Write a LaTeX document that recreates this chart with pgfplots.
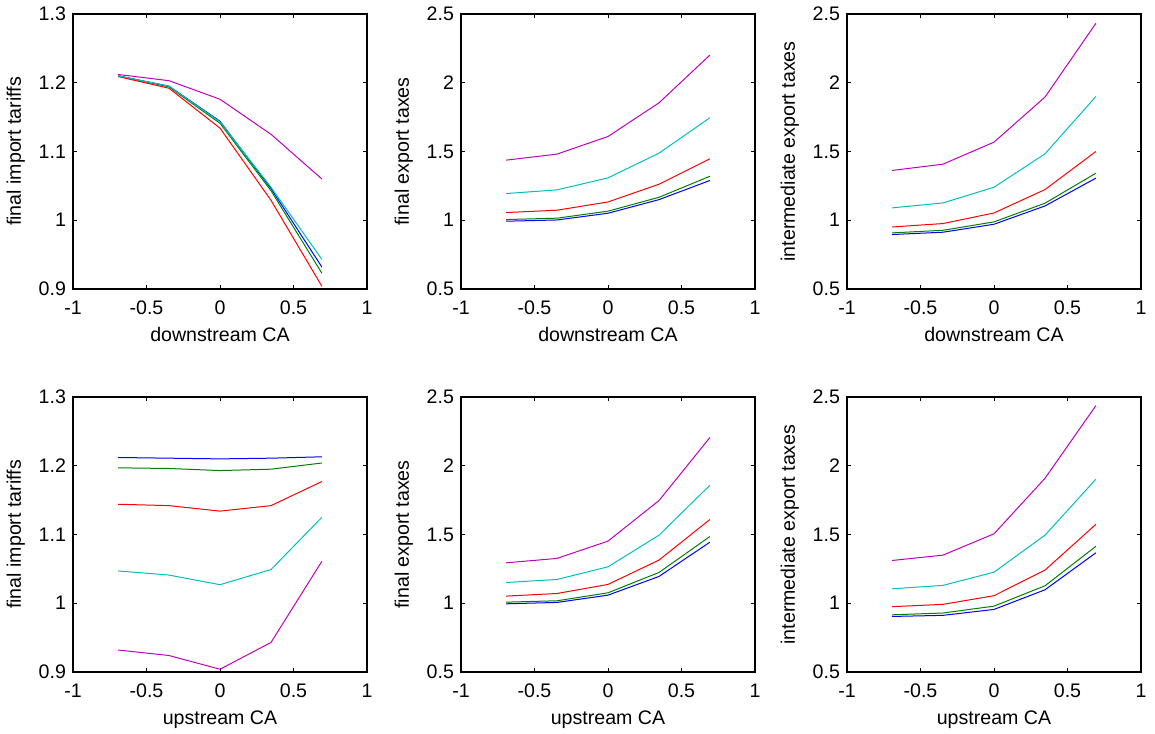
\documentclass[border=0pt]{standalone}
\usepackage{pgfplots}
\pgfplotsset{compat=1.18}
\usepackage{fontspec}
\setmainfont{Liberation Sans}

\definecolor{mblue}{rgb}{0,0,1}
\definecolor{mgreen}{rgb}{0,0.5,0}
\definecolor{mred}{rgb}{1,0,0}
\definecolor{mcyan}{rgb}{0,0.75,0.75}
\definecolor{mmagenta}{rgb}{0.75,0,0.75}

\pgfplotsset{
  panel/.style={
    scale only axis, width=147pt, height=137.5pt, anchor=south west,
    xmin=-1, xmax=1, xtick={-1,-0.5,0,0.5,1},
    tick pos=both, tick align=inside, major tick length=2pt,
    axis line style={line width=0.6pt}, tick style={line width=0.5pt, black},
    /pgf/number format/assume math mode=true,
    tick label style={font=\fontsize{9.8}{11}\selectfont},
    label style={font=\fontsize{9.8}{11}\selectfont},
    xticklabel style={yshift=-2.5pt},
    xlabel style={yshift=0.5pt},
    every axis plot/.append style={line width=0.5pt, no markers},
  },
  tariff/.style={ymin=0.9, ymax=1.3, ytick={0.9,1,1.1,1.2,1.3},
    yticklabels={0.9,1,1.1,1.2,1.3}},
  tax/.style={ymin=0.5, ymax=2.5, ytick={0.5,1,1.5,2,2.5}},
}

\begin{document}
\begin{tikzpicture}
\path[use as bounding box] (0,0) rectangle (577.5pt,366.5pt);

% top row: downstream CA
\begin{axis}[panel, tariff, at={(36.5pt,222pt)},
  xlabel={downstream CA}, ylabel={final import tariffs}]
\addplot[mblue] coordinates {(-0.693,1.210) (-0.347,1.195) (0,1.144) (0.347,1.046) (0.693,0.932)};
\addplot[mgreen] coordinates {(-0.693,1.210) (-0.347,1.194) (0,1.141) (0.347,1.043) (0.693,0.923)};
\addplot[mred] coordinates {(-0.693,1.209) (-0.347,1.192) (0,1.134) (0.347,1.029) (0.693,0.904)};
\addplot[mcyan] coordinates {(-0.693,1.210) (-0.347,1.195) (0,1.143) (0.347,1.048) (0.693,0.943)};
\addplot[mmagenta] coordinates {(-0.693,1.212) (-0.347,1.203) (0,1.176) (0.347,1.125) (0.693,1.060)};
\end{axis}

\begin{axis}[panel, tax, at={(230.5pt,222pt)},
  xlabel={downstream CA}, ylabel={final export taxes}]
\addplot[mblue] coordinates {(-0.693,0.993) (-0.347,1.002) (0,1.051) (0.347,1.150) (0.693,1.289)};
\addplot[mgreen] coordinates {(-0.693,1.005) (-0.347,1.015) (0,1.066) (0.347,1.167) (0.693,1.320)};
\addplot[mred] coordinates {(-0.693,1.056) (-0.347,1.073) (0,1.133) (0.347,1.262) (0.693,1.447)};
\addplot[mcyan] coordinates {(-0.693,1.194) (-0.347,1.221) (0,1.308) (0.347,1.488) (0.693,1.745)};
\addplot[mmagenta] coordinates {(-0.693,1.437) (-0.347,1.481) (0,1.609) (0.347,1.854) (0.693,2.201)};
\end{axis}

\begin{axis}[panel, tax, at={(423.5pt,222pt)},
  xlabel={downstream CA}, ylabel={intermediate export taxes}]
\addplot[mblue] coordinates {(-0.693,0.896) (-0.347,0.913) (0,0.971) (0.347,1.104) (0.693,1.306)};
\addplot[mgreen] coordinates {(-0.693,0.908) (-0.347,0.927) (0,0.988) (0.347,1.124) (0.693,1.342)};
\addplot[mred] coordinates {(-0.693,0.951) (-0.347,0.976) (0,1.053) (0.347,1.223) (0.693,1.500)};
\addplot[mcyan] coordinates {(-0.693,1.090) (-0.347,1.126) (0,1.240) (0.347,1.483) (0.693,1.900)};
\addplot[mmagenta] coordinates {(-0.693,1.362) (-0.347,1.408) (0,1.568) (0.347,1.896) (0.693,2.432)};
\end{axis}

% bottom row: upstream CA
\begin{axis}[panel, tariff, at={(36.5pt,30.5pt)},
  xlabel={upstream CA}, ylabel={final import tariffs}]
\addplot[mblue] coordinates {(-0.693,1.212) (-0.347,1.211) (0,1.210) (0.347,1.211) (0.693,1.213)};
\addplot[mgreen] coordinates {(-0.693,1.197) (-0.347,1.196) (0,1.193) (0.347,1.195) (0.693,1.204)};
\addplot[mred] coordinates {(-0.693,1.144) (-0.347,1.142) (0,1.134) (0.347,1.142) (0.693,1.177)};
\addplot[mcyan] coordinates {(-0.693,1.047) (-0.347,1.041) (0,1.027) (0.347,1.049) (0.693,1.125)};
\addplot[mmagenta] coordinates {(-0.693,0.932) (-0.347,0.924) (0,0.904) (0.347,0.943) (0.693,1.061)};
\end{axis}

\begin{axis}[panel, tax, at={(230.5pt,30.5pt)},
  xlabel={upstream CA}, ylabel={final export taxes}]
\addplot[mblue] coordinates {(-0.693,0.996) (-0.347,1.006) (0,1.059) (0.347,1.195) (0.693,1.444)};
\addplot[mgreen] coordinates {(-0.693,1.008) (-0.347,1.018) (0,1.076) (0.347,1.224) (0.693,1.485)};
\addplot[mred] coordinates {(-0.693,1.052) (-0.347,1.071) (0,1.137) (0.347,1.314) (0.693,1.609)};
\addplot[mcyan] coordinates {(-0.693,1.151) (-0.347,1.173) (0,1.265) (0.347,1.495) (0.693,1.858)};
\addplot[mmagenta] coordinates {(-0.693,1.294) (-0.347,1.326) (0,1.452) (0.347,1.747) (0.693,2.205)};
\end{axis}

\begin{axis}[panel, tax, at={(423.5pt,30.5pt)},
  xlabel={upstream CA}, ylabel={intermediate export taxes}]
\addplot[mblue] coordinates {(-0.693,0.904) (-0.347,0.912) (0,0.955) (0.347,1.098) (0.693,1.367)};
\addplot[mgreen] coordinates {(-0.693,0.916) (-0.347,0.929) (0,0.979) (0.347,1.127) (0.693,1.414)};
\addplot[mred] coordinates {(-0.693,0.975) (-0.347,0.992) (0,1.055) (0.347,1.241) (0.693,1.574)};
\addplot[mcyan] coordinates {(-0.693,1.105) (-0.347,1.130) (0,1.226) (0.347,1.495) (0.693,1.902)};
\addplot[mmagenta] coordinates {(-0.693,1.311) (-0.347,1.350) (0,1.505) (0.347,1.909) (0.693,2.437)};
\end{axis}
\end{tikzpicture}
\end{document}
